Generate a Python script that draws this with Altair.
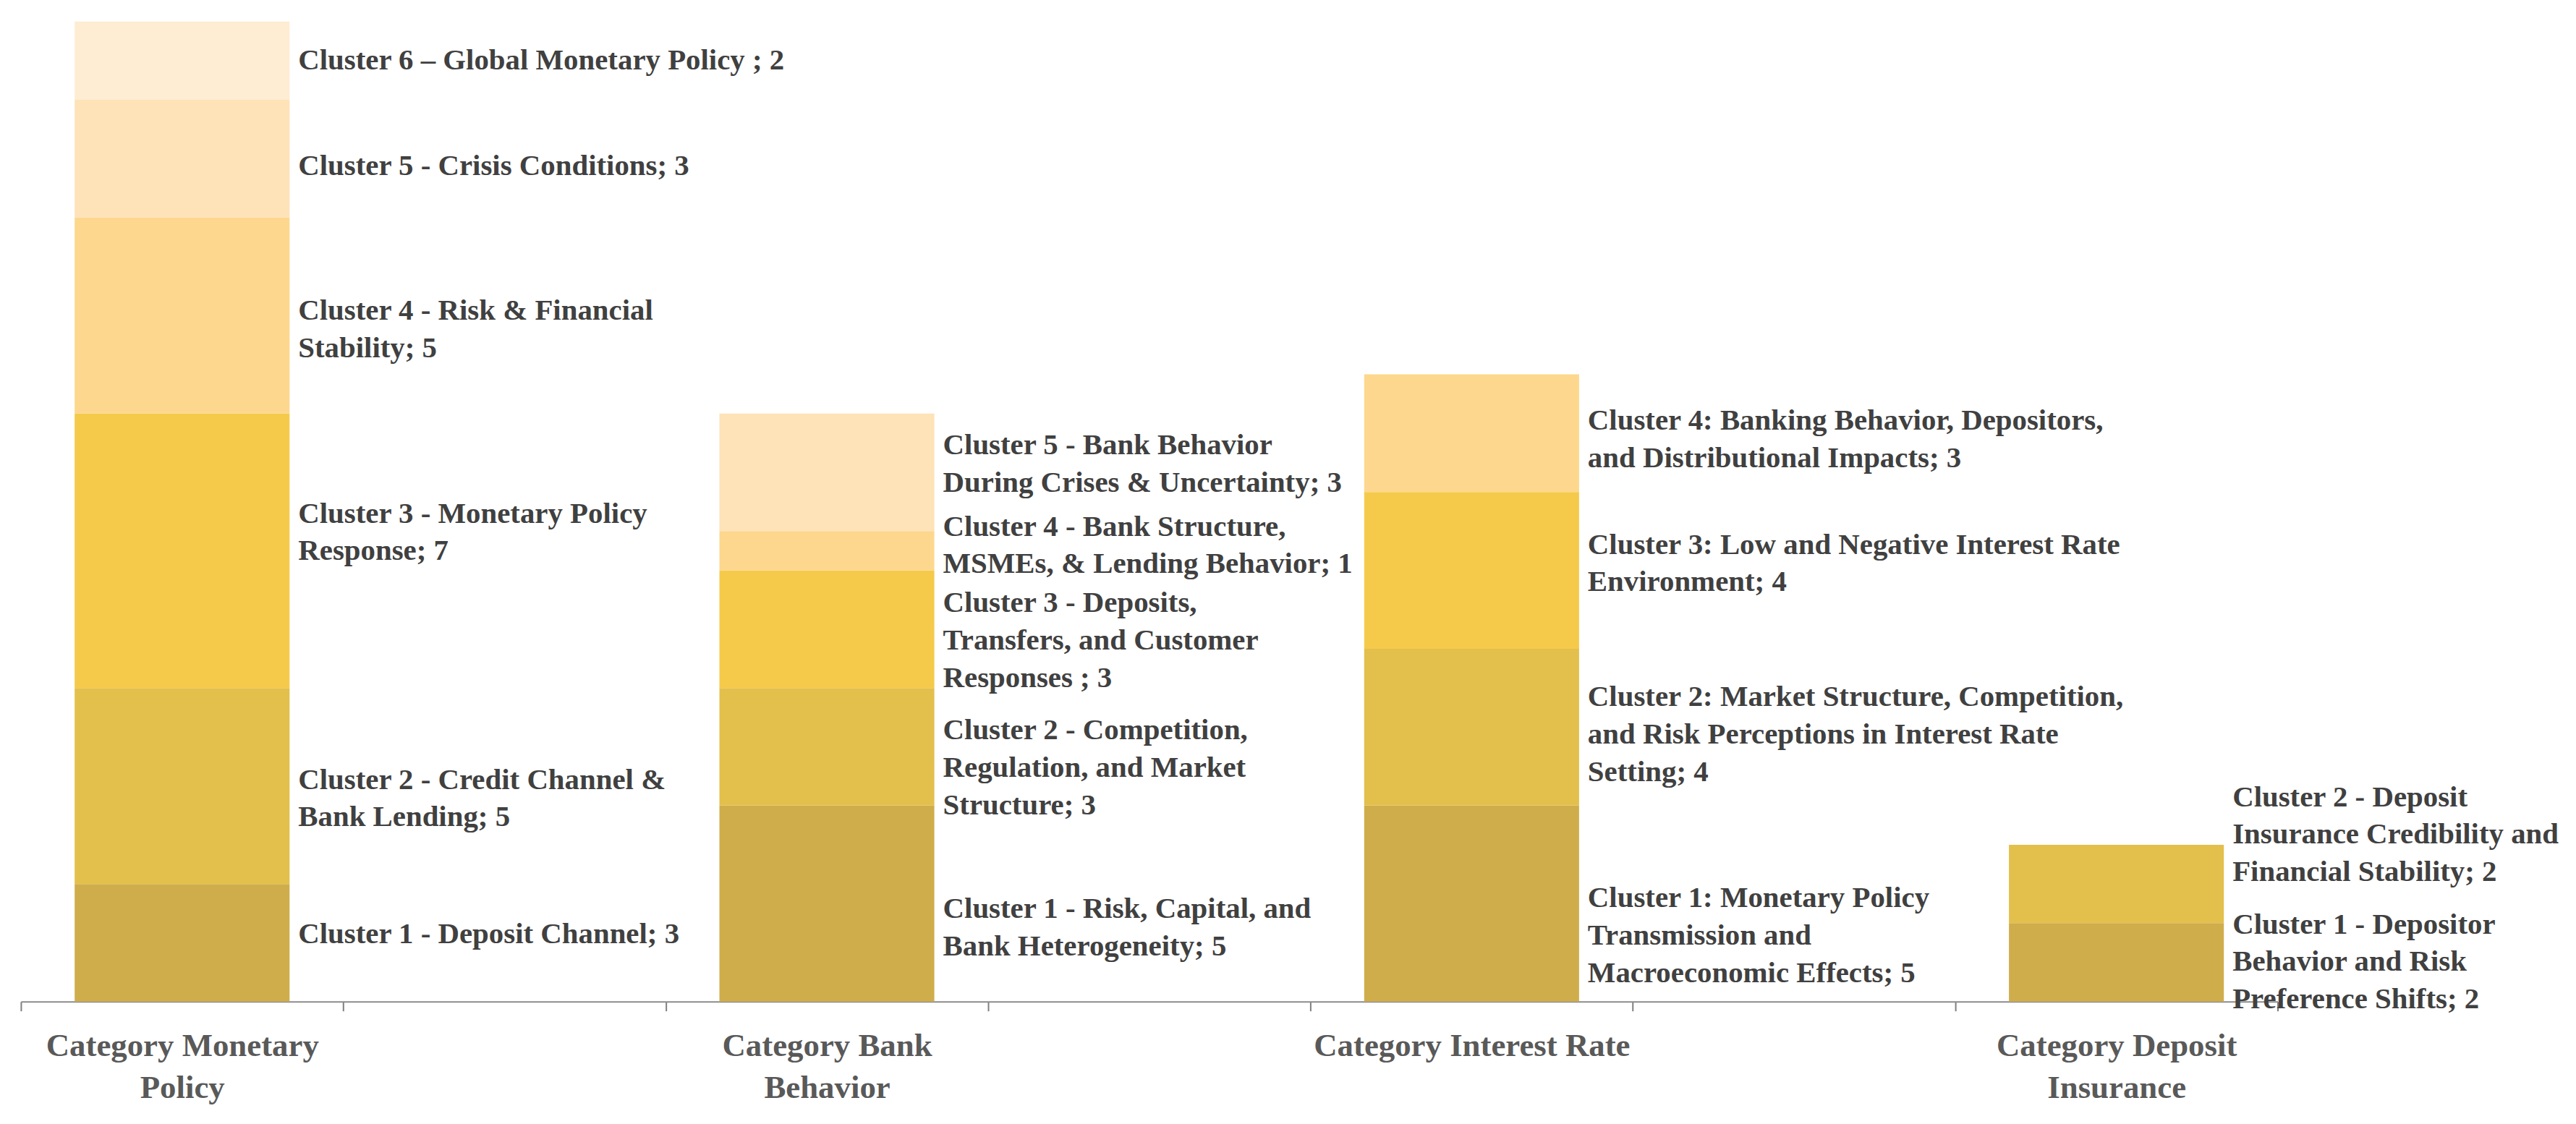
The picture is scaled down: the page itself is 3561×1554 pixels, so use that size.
import altair as alt
import pandas as pd

# ---- data ----
categories = [
    "Category Monetary Policy",
    "Category Bank Behavior",
    "Category Interest Rate",
    "Category Deposit Insurance",
]
# spacer slots that sit between the real categories (as in the original Excel chart)
slots = [categories[0], " ", categories[1], "  ", categories[2], "   ", categories[3]]

mp_values = [3, 5, 7, 5, 3, 2]
mp_labels = [
    "Cluster 1 - Deposit Channel; 3",
    "Cluster 2 - Credit Channel &\nBank Lending; 5",
    "Cluster 3 - Monetary Policy\nResponse; 7",
    "Cluster 4 - Risk & Financial\nStability; 5",
    "Cluster 5 - Crisis Conditions; 3",
    "Cluster 6 \u2013 Global Monetary Policy ; 2",
]

bb_values = [5, 3, 3, 1, 3]
bb_labels = [
    "Cluster 1 - Risk, Capital, and\nBank Heterogeneity; 5",
    "Cluster 2 - Competition,\nRegulation, and Market\nStructure; 3",
    "Cluster 3 - Deposits,\nTransfers, and Customer\nResponses ; 3",
    "Cluster 4 - Bank Structure,\nMSMEs, & Lending Behavior; 1",
    "Cluster 5 - Bank Behavior\nDuring Crises & Uncertainty; 3",
]

ir_values = [5, 4, 4, 3]
ir_labels = [
    "Cluster 1: Monetary Policy\nTransmission and\nMacroeconomic Effects; 5",
    "Cluster 2: Market Structure, Competition,\nand Risk Perceptions in Interest Rate\nSetting; 4",
    "Cluster 3: Low and Negative Interest Rate\nEnvironment; 4",
    "Cluster 4: Banking Behavior, Depositors,\nand Distributional Impacts; 3",
]

di_values = [2, 2]
di_labels = [
    "Cluster 1 - Depositor\nBehavior and Risk\nPreference Shifts; 2",
    "Cluster 2 - Deposit\nInsurance Credibility  and\nFinancial Stability; 2",
]

cluster_colors = ["#CFAD4B", "#E3BF4C", "#F5CA4B", "#FDD78D", "#FEE2B8", "#FEECD3"]

# manual label nudges (pixels, + = down), like hand-placed Excel data labels
label_nudge = {
    (categories[0], 1): -11,
    (categories[0], 2): 18,
    (categories[0], 3): -25,
    (categories[0], 4): 20,
    (categories[0], 5): 11,
    (categories[1], 1): 34,
    (categories[1], 2): 30,
    (categories[1], 3): 16,
    (categories[1], 4): -7,
    (categories[1], 5): -11,
    (categories[2], 1): 45,
    (categories[2], 2): 11,
    (categories[2], 3): -9,
    (categories[2], 4): 9,
    (categories[3], 2): -68,
}

# ---- build the table ----
rows = []
for cat, vals, labs in [
    (categories[0], mp_values, mp_labels),
    (categories[1], bb_values, bb_labels),
    (categories[2], ir_values, ir_labels),
    (categories[3], di_values, di_labels),
]:
    for i, (v, l) in enumerate(zip(vals, labs)):
        rows.append({"category": cat, "cluster": i + 1, "value": v, "label": l})
df = pd.DataFrame(rows)

FONT = "Liberation Serif"
LINE_H = 52

nudge_expr = " : ".join(
    f"(datum.category == '{c}' && datum.cluster == {k}) ? {v}"
    for (c, k), v in label_nudge.items()
) + " : 0"
dy_expr = f"-(length(split(datum.label, '\\n')) - 1) * {LINE_H / 2} + ({nudge_expr})"

x_scale = alt.Scale(domain=slots, paddingInner=0, paddingOuter=0)

label_expr = (
    "datum.label == 'Category Monetary Policy' ? ['Category Monetary', 'Policy'] : "
    "datum.label == 'Category Bank Behavior' ? ['Category Bank', 'Behavior'] : "
    "datum.label == 'Category Deposit Insurance' ? ['Category Deposit', 'Insurance'] : "
    "datum.label"
)

base = (
    alt.Chart(df)
    .transform_stack(
        stack="value",
        groupby=["category"],
        sort=[alt.SortField("cluster", order="ascending")],
        as_=["y0", "y1"],
    )
    .transform_calculate(mid="(datum.y0 + datum.y1) / 2")
)

bars = base.mark_bar(width=alt.RelativeBandSize(2 / 3)).encode(
    x=alt.X(
        "category:N",
        scale=x_scale,
        axis=alt.Axis(
            title=None,
            labelAngle=0,
            tickBand="extent",
            labelExpr=label_expr,
            labelFont=FONT,
            labelFontSize=45,
            labelFontWeight="bold",
            labelColor="#595959",
            labelLineHeight=58,
            labelPadding=26,
            labelLimit=0,
            domainColor="#8C8C8C",
            domainWidth=2,
            tickColor="#7F7F7F",
            tickWidth=2,
            tickSize=13,
        ),
    ),
    y=alt.Y("y0:Q", scale=alt.Scale(domain=[0, 25], nice=False), axis=None),
    y2="y1:Q",
    color=alt.Color(
        "cluster:O",
        scale=alt.Scale(domain=[1, 2, 3, 4, 5, 6], range=cluster_colors),
        legend=None,
    ),
)

labels = base.mark_text(
    align="left",
    baseline="middle",
    dx=12,
    dy=alt.ExprRef(expr=dy_expr),
    font=FONT,
    fontSize=41,
    fontWeight="bold",
    color="#404040",
    lineBreak="\n",
    lineHeight=LINE_H,
).encode(
    x=alt.X("category:N", scale=x_scale, bandPosition=5 / 6),
    y=alt.Y("mid:Q", scale=alt.Scale(domain=[0, 25], nice=False)),
    text="label:N",
)

chart = (
    alt.layer(bars, labels)
    .properties(
        width=3131,
        height=1360,
        padding={"left": 20, "top": 19, "right": 5, "bottom": 5},
        background="white",
    )
    .configure_view(stroke=None)
)

chart.save("out.html", embed_options={"renderer": "svg", "actions": False})
